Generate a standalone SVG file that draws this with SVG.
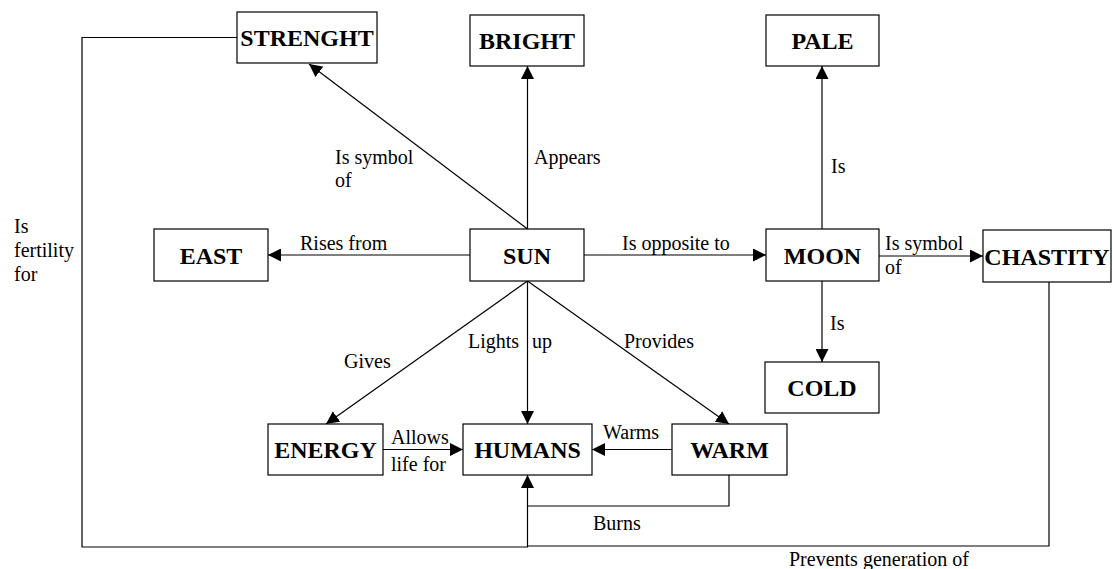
<svg xmlns="http://www.w3.org/2000/svg" width="1113" height="569" viewBox="0 0 1113 569">
<style>
.box{fill:#fff;stroke:#000;stroke-width:1.2}
.nl{font-family:'Times New Roman','Liberation Serif',Times,serif;font-size:24px;font-weight:bold;text-anchor:middle;fill:#000}
.el{font-family:'Times New Roman','Liberation Serif',Times,serif;font-size:20px;fill:#000}
.ln{fill:none;stroke:#000;stroke-width:1.2}
</style>
<defs>
<marker id="ah" markerUnits="userSpaceOnUse" markerWidth="14" markerHeight="13" refX="13" refY="6.5" orient="auto">
<path d="M0,0 L13,6.5 L0,13 z" fill="#000"/>
</marker>
</defs>
<g id="connectors">
<line class="ln" x1="527.5" y1="229" x2="309" y2="64" marker-end="url(#ah)"/>
<line class="ln" x1="527.5" y1="229" x2="527.5" y2="66" marker-end="url(#ah)"/>
<line class="ln" x1="470" y1="255" x2="268" y2="255" marker-end="url(#ah)"/>
<line class="ln" x1="584" y1="255" x2="766" y2="255" marker-end="url(#ah)"/>
<line class="ln" x1="879" y1="256" x2="983" y2="256" marker-end="url(#ah)"/>
<line class="ln" x1="822" y1="229" x2="822" y2="66" marker-end="url(#ah)"/>
<line class="ln" x1="822" y1="281" x2="822" y2="362" marker-end="url(#ah)"/>
<line class="ln" x1="527.5" y1="281" x2="326" y2="424" marker-end="url(#ah)"/>
<line class="ln" x1="527.5" y1="281" x2="527.5" y2="424" marker-end="url(#ah)"/>
<line class="ln" x1="527.5" y1="281" x2="729" y2="424" marker-end="url(#ah)"/>
<line class="ln" x1="383" y1="449.5" x2="463" y2="449.5" marker-end="url(#ah)"/>
<line class="ln" x1="672" y1="449.5" x2="592" y2="449.5" marker-end="url(#ah)"/>
<polyline class="ln" points="729,475 729,506 527.5,506 527.5,475" marker-end="url(#ah)"/>
<polyline class="ln" points="237,37.5 82,37.5 82,547 527.5,547 527.5,506"/>
<polyline class="ln" points="1049,282 1049,546 527.5,546"/>
</g>
<g id="edge-labels">
<text class="el" x="335" y="164">Is symbol</text>
<text class="el" x="335" y="187">of</text>
<text class="el" x="534" y="164">Appears</text>
<text class="el" x="300" y="250">Rises from</text>
<text class="el" x="622" y="250">Is opposite to</text>
<text class="el" x="885" y="250">Is symbol</text>
<text class="el" x="885" y="274">of</text>
<text class="el" x="831" y="173">Is</text>
<text class="el" x="830" y="330">Is</text>
<text class="el" x="344" y="368">Gives</text>
<text class="el" x="468" y="348">Lights <tspan x="532">up</tspan></text>
<text class="el" x="624" y="348">Provides</text>
<text class="el" x="391" y="444">Allows</text>
<text class="el" x="391" y="471">life for</text>
<text class="el" x="603" y="439">Warms</text>
<text class="el" x="593" y="530">Burns</text>
<text class="el" x="789" y="566">Prevents generation of</text>
<text class="el" x="14" y="233">Is</text>
<text class="el" x="14" y="257">fertility</text>
<text class="el" x="14" y="281">for</text>
</g>
<g id="n-strenght"><rect class="box" x="237" y="12" width="140" height="51"/><text class="nl" x="307" y="46">STRENGHT</text></g>
<g id="n-bright"><rect class="box" x="470" y="15" width="114" height="51"/><text class="nl" x="527" y="49">BRIGHT</text></g>
<g id="n-pale"><rect class="box" x="766" y="15" width="113" height="51"/><text class="nl" x="822.5" y="49">PALE</text></g>
<g id="n-east"><rect class="box" x="154" y="229" width="114" height="52"/><text class="nl" x="211" y="263.5">EAST</text></g>
<g id="n-sun"><rect class="box" x="470" y="229" width="114" height="52"/><text class="nl" x="527" y="263.5">SUN</text></g>
<g id="n-moon"><rect class="box" x="766" y="229" width="113" height="52"/><text class="nl" x="822.5" y="263.5">MOON</text></g>
<g id="n-chastity"><rect class="box" x="983" y="230" width="128" height="52"/><text class="nl" x="1047" y="264.5">CHASTITY</text></g>
<g id="n-cold"><rect class="box" x="765" y="362" width="114" height="51"/><text class="nl" x="822" y="396">COLD</text></g>
<g id="n-energy"><rect class="box" x="268" y="424" width="115" height="51"/><text class="nl" x="325.5" y="458">ENERGY</text></g>
<g id="n-humans"><rect class="box" x="463" y="424" width="129" height="51"/><text class="nl" x="527.5" y="458">HUMANS</text></g>
<g id="n-warm"><rect class="box" x="672" y="424" width="115" height="51"/><text class="nl" x="729.5" y="458">WARM</text></g>
</svg>
